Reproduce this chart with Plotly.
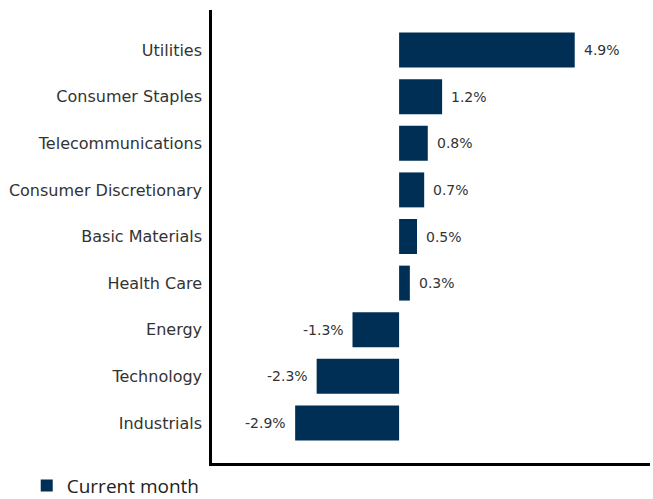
import plotly.graph_objects as go

# Sector returns for the current month (%)
sectors = [
    "Utilities",
    "Consumer Staples",
    "Telecommunications",
    "Consumer Discretionary",
    "Basic Materials",
    "Health Care",
    "Energy",
    "Technology",
    "Industrials",
]
returns = [4.9, 1.2, 0.8, 0.7, 0.5, 0.3, -1.3, -2.3, -2.9]
series_name = "Current month"

BAR_COLOR = "#002f56"
TEXT_COLOR = "#333333"
FONT = "DejaVu Sans, sans-serif"
LEGEND_FONT = "Open Sans, sans-serif"

fig = go.Figure()
fig.add_trace(
    go.Bar(
        x=returns,
        y=sectors,
        orientation="h",
        name=series_name,
        marker=dict(color=BAR_COLOR, line=dict(width=0)),
        width=0.75,
        showlegend=True,
    )
)

# Value labels next to each bar end
for s, v in zip(sectors, returns):
    fig.add_annotation(
        x=v,
        y=s,
        text=f"{v:.1f}%",
        showarrow=False,
        xanchor="left" if v >= 0 else "right",
        xshift=7 if v >= 0 else -7,
        font=dict(family=FONT, size=14, color=TEXT_COLOR),
    )

fig.update_layout(
    width=653,
    height=499,
    margin=dict(l=212, r=3, t=10, b=36, autoexpand=False),
    paper_bgcolor="white",
    plot_bgcolor="white",
    font=dict(family=FONT, size=15, color=TEXT_COLOR),
    bargap=0.25,
    legend=dict(
        orientation="h",
        yref="paper",
        x=-0.423,
        y=-0.05,
        xanchor="left",
        yanchor="middle",
        font=dict(family=LEGEND_FONT, size=19, color="#222222"),
        itemwidth=30,
    ),
    xaxis=dict(
        range=[-5.22, 7.0],
        showgrid=False,
        zeroline=False,
        showticklabels=False,
        showline=True,
        linecolor="black",
        linewidth=2.5,
        ticks="",
    ),
    yaxis=dict(
        categoryorder="array",
        categoryarray=sectors[::-1],
        range=[-0.86, 8.86],
        showgrid=False,
        zeroline=False,
        showline=True,
        linecolor="black",
        linewidth=2.5,
        ticks="outside",
        ticklen=4,
        tickcolor="rgba(0,0,0,0)",
        tickfont=dict(family=FONT, size=16, color=TEXT_COLOR),
    ),
)

fig.write_html("out.html")
